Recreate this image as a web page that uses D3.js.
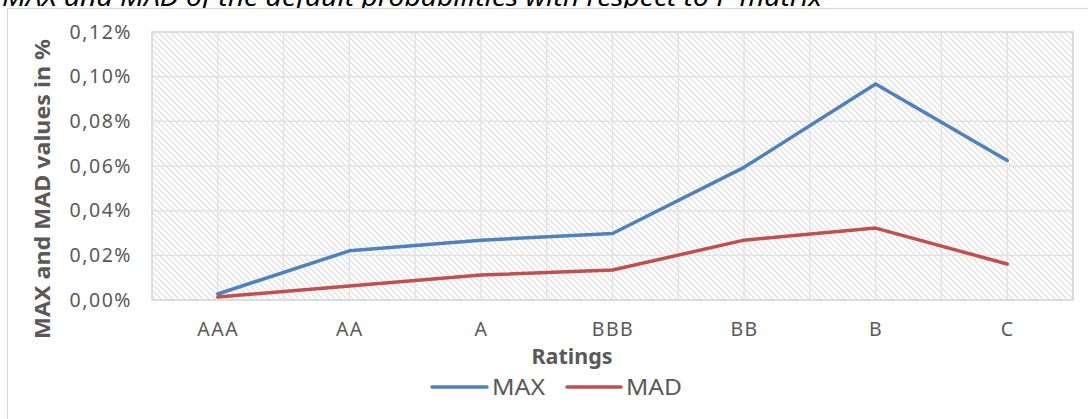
<!DOCTYPE html>
<html><head><meta charset="utf-8">
<script src="https://cdn.jsdelivr.net/npm/d3@7"></script>
<style>body{margin:0;background:#fff}svg{display:block}</style>
</head><body>
<script>
const categories = ["AAA","AA","A","BBB","BB","B","C"];
const maxValues = [0.0027,0.0220,0.0268,0.0298,0.0594,0.0967,0.0625];
const madValues = [0.0013,0.0063,0.0112,0.0134,0.0268,0.0322,0.0161];
const yTicks = [0,0.02,0.04,0.06,0.08,0.10,0.12];
const seriesNames = ["MAX","MAD"];
const colors = ["#4f81bd","#c0504d"];

const W=1088,H=419;
const svg=d3.select("body").append("svg").attr("width",W).attr("height",H);
const font="'Noto Sans', sans-serif";
const L=152,R=1073,T=32,B=300;

const defs=svg.append("defs");
const pat=defs.append("pattern").attr("id","hatch").attr("patternUnits","userSpaceOnUse").attr("width",6).attr("height",6);
pat.append("rect").attr("width",6).attr("height",6).attr("fill","#fff");
pat.append("path").attr("d","M-1,-1L7,7M-4,2L2,8M4,-2L8,2").attr("stroke","#dcdcdc").attr("stroke-width",1.1);

// title (cropped at top, as in the reference)
svg.append("text").attr("x",2).attr("y",6).attr("font-family",font).attr("font-style","italic")
  .attr("font-size",26).attr("fill","#000").attr("textLength",820).attr("lengthAdjust","spacingAndGlyphs")
  .text("MAX and MAD of the default probabilities with respect to P matrix");

// chart frame
svg.append("rect").attr("x",7.5).attr("y",8.5).attr("width",1100).attr("height",430).attr("fill","#fff").attr("stroke","#d9d9d9").attr("stroke-width",1.2);

const x=d3.scalePoint().domain(categories).range([L,R]).padding(0.5);
const band=d3.scaleBand().domain(categories).range([L,R]);
const y=d3.scaleLinear().domain([0,0.12]).range([B,T]);

svg.append("rect").attr("x",L).attr("y",T).attr("width",R-L).attr("height",B-T).attr("fill","url(#hatch)");

// gridlines
const g=svg.append("g").attr("stroke","#e3e3e3").attr("stroke-width",1.5);
yTicks.forEach(t=>g.append("line").attr("x1",L).attr("x2",R).attr("y1",y(t)).attr("y2",y(t)));
const vx=[];
categories.forEach(c=>{vx.push(band(c));vx.push(x(c));});
vx.push(R);
vx.forEach(v=>g.append("line").attr("x1",v).attr("x2",v).attr("y1",T).attr("y2",B));
// plot border
svg.append("rect").attr("x",L).attr("y",T).attr("width",R-L).attr("height",B-T).attr("fill","none").attr("stroke","#d9d9d9").attr("stroke-width",1.5);

// y axis labels
const fmt=d=>d3.format(".2f")(d).replace(".",",")+"%";
const ya=svg.append("g").attr("transform",`translate(132,0)`).call(d3.axisLeft(y).tickValues(yTicks).tickFormat(fmt).tickSize(0).tickPadding(0));
ya.select(".domain").remove();
ya.selectAll("text").attr("font-family",font).attr("font-size",19.5).attr("letter-spacing",1.5).attr("fill","#595959");

// x axis labels
const xa=svg.append("g").attr("transform",`translate(0,${B})`).call(d3.axisBottom(x).tickSize(0).tickPadding(22));
xa.select(".domain").remove();
xa.selectAll("text").attr("font-family",font).attr("font-size",19.5).attr("letter-spacing",1.5).attr("fill","#595959");

// axis titles
svg.append("text").attr("transform","translate(50,189) rotate(-90)").attr("text-anchor","middle")
  .attr("font-family",font).attr("font-weight","bold").attr("font-size",21).attr("fill","#595959")
  .attr("textLength",300).attr("lengthAdjust","spacingAndGlyphs")
  .text("MAX and MAD values in %");
svg.append("text").attr("x",572).attr("y",364).attr("text-anchor","middle")
  .attr("font-family",font).attr("font-weight","bold").attr("font-size",21).attr("fill","#595959")
  .attr("textLength",81).attr("lengthAdjust","spacingAndGlyphs").text("Ratings");

// lines
const line=d3.line().x((d,i)=>x(categories[i])).y(d=>y(d));
[maxValues,madValues].forEach((vals,i)=>{
  svg.append("path").datum(vals).attr("d",line).attr("fill","none").attr("stroke",colors[i])
    .attr("stroke-width",3.5).attr("stroke-linejoin","round").attr("stroke-linecap","round");
});

// legend
const lg=[{x1:432,x2:487,tx:492,w:53},{x1:567,x2:621,tx:626,w:56}];
seriesNames.forEach((n,i)=>{
  svg.append("line").attr("x1",lg[i].x1).attr("x2",lg[i].x2).attr("y1",387).attr("y2",387)
    .attr("stroke",colors[i]).attr("stroke-width",3.5).attr("stroke-linecap","round");
  svg.append("text").attr("x",lg[i].tx).attr("y",395).attr("font-family",font).attr("font-size",21)
    .attr("fill","#595959").attr("textLength",lg[i].w).attr("lengthAdjust","spacingAndGlyphs").text(n);
});
</script>
</body></html>
